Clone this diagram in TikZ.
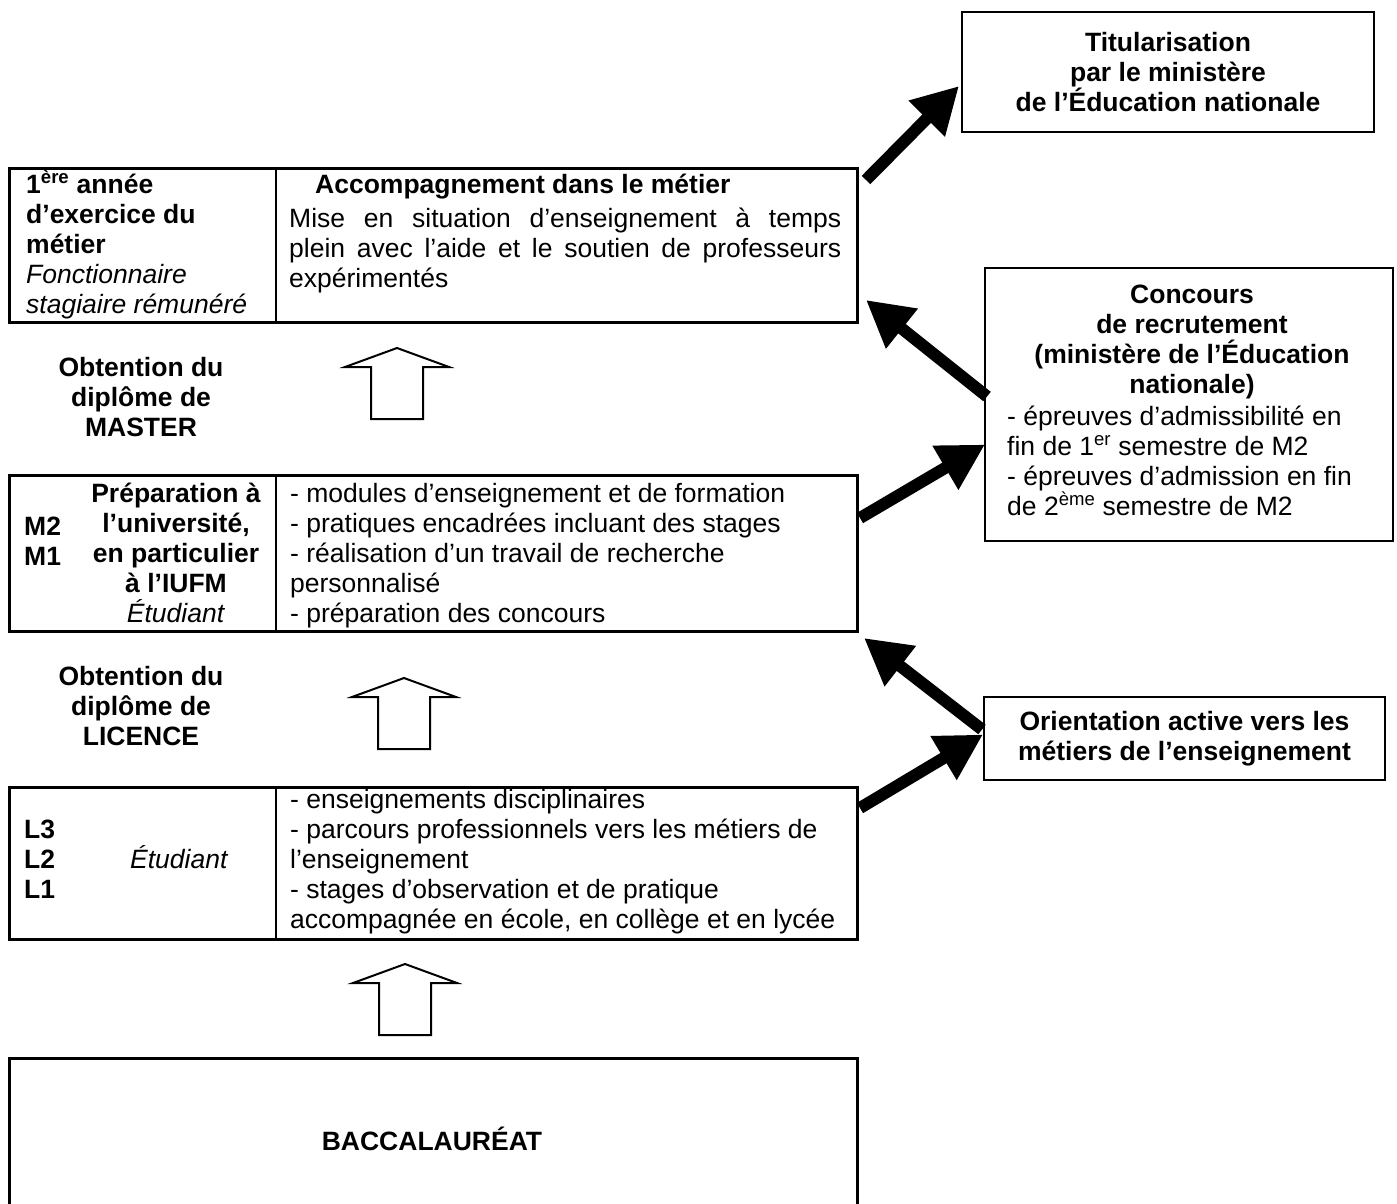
\documentclass[tikz,border=0pt]{standalone}
\usepackage{fontspec}
\setmainfont{Liberation Sans}
\usetikzlibrary{arrows.meta}

\newcommand\fullline[1]{\makebox[552pt][s]{#1}}

\tikzset{
  cellbox/.style={draw, line width=3pt, minimum width=848pt, anchor=north west, inner sep=0pt, outer sep=0pt},
  sidebox/.style={draw, line width=2pt, anchor=north west, inner sep=0pt, outer sep=0pt},
  divider/.style={line width=2.2pt},
  txt/.style={inner sep=0pt, anchor=base west, align=left},
  ctxt/.style={inner sep=0pt, anchor=base, align=center, font=\bfseries},
  bigarrow/.style={line width=12pt, -{Triangle[length=46pt,width=48pt]}},
  uparrow/.pic={
    \draw[line width=2pt, line join=miter]
      (0,0) -- (52,19) -- (26,19) -- (26,71) -- (-26,71) -- (-26,19) -- (-52,19) -- cycle;
  }
}

\begin{document}
\begin{tikzpicture}[x=1pt, y=-1pt,
    execute at begin picture={\fontsize{26.5}{30}\selectfont}]
  \useasboundingbox (0,0) rectangle (1397,1203);

  % left column of stages (text nodes sit on the baseline of their last line)
  \node[cellbox, minimum height=154pt] (annee) at (9,168) {};
  \node[cellbox, minimum height=156pt] (master) at (9,475) {};
  \node[cellbox, minimum height=152pt] (licence) at (9,787) {};
  \node[cellbox, minimum height=170pt] (bac) at (9,1058) {};
  \foreach \b in {annee,master,licence}
    \draw[divider] ([xshift=267pt]\b.north west) -- ([xshift=267pt]\b.south west);

  \node[txt] (anneeleft) at (26,313)
    {\textbf{1\textsuperscript{ère} année}\\\textbf{d’exercice du}\\\textbf{métier}\\
     \textit{Fonctionnaire}\\\textit{stagiaire rémunéré}};
  \node[txt, font=\bfseries] (anneehead) at (315,193) {Accompagnement dans le métier};
  \node[txt] (anneebody) at (289,287)
    {\fullline{Mise en situation d’enseignement à temps}\\
     \fullline{plein avec l’aide et le soutien de professeurs}\\
     expérimentés};

  \node[ctxt] (obtmaster) at (141,436) {Obtention du\\diplôme de\\MASTER};
  \pic at (397,348) {uparrow};

  \node[txt, font=\bfseries] (mlevels) at (24,565) {M2\\M1};
  \node[inner sep=0pt, anchor=base, align=center] (mprep) at (176,622)
    {\textbf{Préparation à}\\\textbf{l’université,}\\\textbf{en particulier}\\
     \textbf{à l’IUFM}\\\textit{Étudiant}};
  \node[txt] (mbody) at (290,622)
    {- modules d’enseignement et de formation\\
     - pratiques encadrées incluant des stages\\
     - réalisation d’un travail de recherche\\
     personnalisé\\
     - préparation des concours};

  \node[ctxt] (obtlicence) at (141,745) {Obtention du\\diplôme de\\LICENCE};
  \pic at (404,678) {uparrow};

  \node[txt, font=\bfseries] (llevels) at (24,898) {L3\\L2\\L1};
  \node[txt, font=\itshape] (lstatus) at (130,868) {Étudiant};
  \node[txt] (lbody) at (290,928)
    {- enseignements disciplinaires\\
     - parcours professionnels vers les métiers de\\
     l’enseignement\\
     - stages d’observation et de pratique\\
     accompagnée en école, en collège et en lycée};

  \pic at (405,964) {uparrow};
  \node[inner sep=0pt, anchor=base, font=\bfseries] (bactext) at (432,1150) {BACCALAURÉAT};

  % right column
  \node[sidebox, minimum width=412pt, minimum height=120pt, font=\bfseries, align=center] (titul)
    at (962,12) {Titularisation\\par le ministère\\de l’Éducation nationale};

  \node[sidebox, minimum width=408pt, minimum height=273pt] (concours) at (985,268) {};
  \node[ctxt] (conchead) at (1192,393)
    {Concours\\de recrutement\\(ministère de l’Éducation\\nationale)};
  \node[txt] (concbody) at (1007,515)
    {- épreuves d’admissibilité en\\
     fin de 1\textsuperscript{er} semestre de M2\\
     - épreuves d’admission en fin\\
     de 2\textsuperscript{ème} semestre de M2};

  \node[sidebox, minimum width=401pt, minimum height=83pt, font=\bfseries, align=center] (orient)
    at (984,697) {Orientation active vers les\\métiers de l’enseignement};

  % thick arrows
  \draw[bigarrow] ([shift={(9,12)}]annee.north east) -- ([shift={(-3,14)}]titul.west);
  \draw[bigarrow] ([shift={(2,-8)}]concours.west) -- ([shift={(9,-22)}]annee.south east);
  \draw[bigarrow] ([shift={(3,-35)}]master.east) -- ([shift={(0,40)}]concours.west);
  \draw[bigarrow] ([shift={(-2,-9)}]orient.west) -- ([shift={(7,7)}]master.south east);
  \draw[bigarrow] ([shift={(3,21)}]licence.north east) -- ([shift={(-1,-4)}]orient.west);
\end{tikzpicture}
\end{document}
